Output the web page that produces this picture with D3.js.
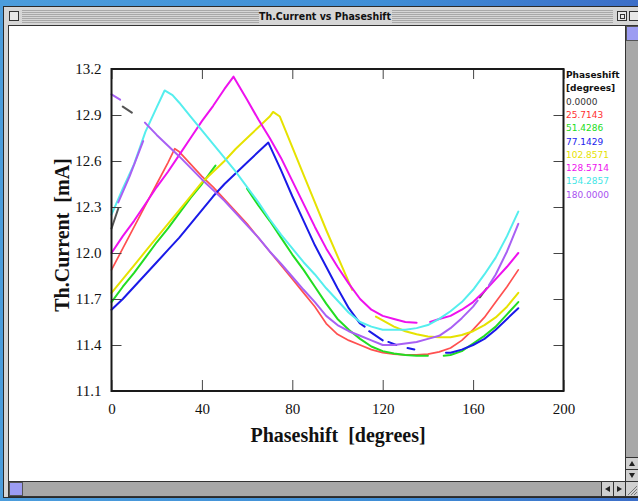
<!DOCTYPE html>
<html><head><meta charset="utf-8">
<script src="https://cdn.jsdelivr.net/npm/d3@7"></script>
<style>
body{margin:0;background:#3e8fd6;overflow:hidden}
svg{display:block}
</style>
</head><body>
<svg id="c" width="638" height="501"></svg>
<script>
// ---------------- data ----------------
const chartTitle = "Th.Current vs Phaseshift";
const xTitle = "Phaseshift  [degrees]";
const yTitle = "Th.Current  [mA]";
const legendTitle = ["Phaseshift", "[degrees]"];
const seriesNames = ["0.0000","25.7143","51.4286","77.1429","102.8571","128.5714","154.2857","180.0000"];
const seriesColors = ["#555555","#ff5050","#22dd22","#1a1ae8","#e6e200","#ee11ee","#55eeee","#a860f4"];
const legendColors = ["#333333","#ff3030","#22dd22","#2222ee","#e6e200","#ee11ee","#44e6e6","#a850f0"];
const xTicks = [0,40,80,120,160,200];
const yTicks = [11.1,11.4,11.7,12.0,12.3,12.6,12.9,13.2];

const blackX = [0,3,3.5,5,9,9.5,163,166];
const blackY = [12.16,12.29,null,12.955,12.915,null,11.71,11.77];

const redX = [0,5,10,15,20,25,28,30,35,40,45,50,55,60,65,70,75,80,85,90,95,100,105,110,115,120,125,130,135,140,145,150,155,160,165,170,175,180];
const redY = [11.89,12.03,12.17,12.31,12.45,12.59,12.68,12.66,12.58,12.50,12.43,12.35,12.27,12.19,12.10,12.01,11.92,11.83,11.74,11.65,11.54,11.47,11.43,11.40,11.37,11.35,11.34,11.335,11.335,11.34,11.355,11.38,11.43,11.50,11.58,11.68,11.78,11.89];

const greenX = [0,5,10,15,20,25,30,35,40,45,46,50,60,65,70,75,80,85,90,95,100,105,110,115,120,125,130,135,140,143,147,150,155,160,165,170,175,180];
const greenY = [11.68,11.78,11.87,11.97,12.07,12.16,12.26,12.36,12.45,12.55,12.57,null,12.42,12.31,12.21,12.10,11.99,11.89,11.78,11.67,11.57,11.50,11.44,11.39,11.36,11.345,11.335,11.33,11.33,null,11.33,11.335,11.36,11.41,11.46,11.52,11.60,11.68];

const blueX = [0,5,10,15,20,25,30,35,40,45,50,55,60,65,69.4,75,80,85,90,95,100,105,110,112,113,114,120,121,122.5,126,127,131,134,136,148,150,155,160,165,170,175,180];
const blueY = [11.63,11.70,11.78,11.86,11.94,12.02,12.10,12.19,12.28,12.37,12.45,12.52,12.59,12.66,12.72,12.54,12.37,12.21,12.05,11.91,11.77,11.64,11.54,11.52,null,11.49,11.43,null,11.42,11.40,null,11.38,11.37,null,11.35,11.35,11.37,11.40,11.44,11.50,11.57,11.64];

const yellowX = [0,5,10,15,20,25,30,35,40,45,50,55,60,65,70,71.5,74.5,80,85,90,95,100,105,106.5,110,117,120,125,130,135,140,145,150,155,160,165,170,175,180];
const yellowY = [11.74,11.83,11.92,12.01,12.10,12.19,12.28,12.37,12.46,12.53,12.60,12.68,12.75,12.82,12.89,12.92,12.89,12.69,12.51,12.33,12.15,11.98,11.81,11.76,null,11.585,11.56,11.52,11.49,11.47,11.455,11.45,11.45,11.465,11.49,11.53,11.58,11.65,11.74];

const magentaX = [0,5,10,15,20,25,30,35,40,45,50,54,60,65,70,75,80,85,90,95,100,105,110,115,120,125,130,135,138,141,145,150,155,160,165,170,175,180];
const magentaY = [12.00,12.11,12.21,12.32,12.43,12.53,12.64,12.75,12.86,12.96,13.07,13.15,13.00,12.87,12.75,12.62,12.47,12.32,12.17,12.03,11.91,11.80,11.70,11.63,11.59,11.57,11.55,11.545,null,11.55,11.57,11.59,11.63,11.68,11.75,11.83,11.91,12.00];

const cyanX = [0,5,10,15,20,23.5,27,30,35,40,45,50,55,60,65,70,75,80,85,90,95,100,105,110,115,120,125,130,135,140,145,150,155,160,165,170,175,180];
const cyanY = [12.25,12.42,12.58,12.79,12.95,13.06,13.03,12.98,12.89,12.80,12.71,12.62,12.53,12.43,12.33,12.22,12.12,12.03,11.94,11.86,11.77,11.69,11.61,11.55,11.52,11.50,11.50,11.50,11.51,11.53,11.57,11.62,11.68,11.76,11.86,11.97,12.11,12.27];

const purpleX = [0,3.8,4,3,8,14,14.5,14.8,20,25,30,35,40,45,50,55,60,65,70,75,80,85,90,95,100,105,110,115,120,125,130,135,140,145,150,155,160,162,164.5,167,170,175,180];
const purpleY = [13.035,13.0,null,12.33,12.50,12.73,null,12.85,12.77,12.70,12.63,12.555,12.48,12.41,12.34,12.26,12.18,12.10,12.01,11.93,11.845,11.76,11.68,11.59,11.53,11.49,11.46,11.43,11.40,11.40,11.41,11.42,11.44,11.46,11.51,11.575,11.65,11.69,null,11.79,11.86,12.01,12.19];

const seriesX = [blackX,redX,greenX,blueX,yellowX,magentaX,cyanX,purpleX];
const seriesY = [blackY,redY,greenY,blueY,yellowY,magentaY,cyanY,purpleY];

// ---------------- window chrome ----------------
const svg = d3.select("#c");
const defs = svg.append("defs");
const gr = defs.append("linearGradient").attr("id","desk").attr("x1",0).attr("x2",1).attr("y1",0).attr("y2",0);
gr.append("stop").attr("offset","0%").attr("stop-color","#4c9ddc");
gr.append("stop").attr("offset","60%").attr("stop-color","#3f8ed6");
gr.append("stop").attr("offset","100%").attr("stop-color","#3c6ec8");
svg.append("rect").attr("width",638).attr("height",501).attr("fill","url(#desk)");

svg.append("rect").attr("x",3.5).attr("y",6.5).attr("width",640).attr("height",491)
  .attr("fill","#d6d6d6").attr("stroke","#2a2a2a");
const stripes = svg.append("g").attr("stroke","#a8a8a8").attr("stroke-width",1);
for (let yy = 10.5; yy <= 23.5; yy += 2) {
  stripes.append("line").attr("x1",22).attr("x2",259).attr("y1",yy).attr("y2",yy);
  stripes.append("line").attr("x1",392).attr("x2",613).attr("y1",yy).attr("y2",yy);
}
svg.append("rect").attr("x",9.5).attr("y",11.5).attr("width",9).attr("height",9)
  .attr("fill","#e8e8e8").attr("stroke","#333");
svg.append("rect").attr("x",617.5).attr("y",11.5).attr("width",9).attr("height",9)
  .attr("fill","#e8e8e8").attr("stroke","#333");
svg.append("rect").attr("x",620.5).attr("y",14.5).attr("width",4).attr("height",4)
  .attr("fill","none").attr("stroke","#333");
svg.append("rect").attr("x",629.5).attr("y",11.5).attr("width",9).attr("height",9)
  .attr("fill","#e8e8e8").attr("stroke","#333");
svg.append("text").attr("x",325).attr("y",20).attr("text-anchor","middle")
  .attr("font-family","'DejaVu Sans Condensed','DejaVu Sans',sans-serif").attr("font-stretch","condensed")
  .attr("font-weight","bold").attr("font-size",10.5).attr("fill","#111").text(chartTitle);

svg.append("rect").attr("x",8.5).attr("y",25.5).attr("width",617).attr("height",456)
  .attr("fill","#ffffff").attr("stroke","#333");
svg.append("rect").attr("x",625.5).attr("y",25.5).attr("width",14).attr("height",456)
  .attr("fill","#a8a8a8").attr("stroke","#333");
svg.append("rect").attr("x",626.5).attr("y",26.5).attr("width",12).attr("height",14)
  .attr("fill","#9c9cf2").attr("stroke","#555");
svg.append("rect").attr("x",625.5).attr("y",457.5).attr("width",14).attr("height",12)
  .attr("fill","#cfcfcf").attr("stroke","#333");
svg.append("rect").attr("x",625.5).attr("y",469.5).attr("width",14).attr("height",12)
  .attr("fill","#cfcfcf").attr("stroke","#333");
svg.append("path").attr("d","M629,466 L635,466 L632,461 Z").attr("fill","#222");
svg.append("path").attr("d","M629,473 L635,473 L632,478 Z").attr("fill","#222");
svg.append("rect").attr("x",8.5).attr("y",481.5).attr("width",617).attr("height",15)
  .attr("fill","#a8a8a8").attr("stroke","#333");
svg.append("rect").attr("x",9.5).attr("y",482.5).attr("width",13).attr("height",13)
  .attr("fill","#9c9cf2").attr("stroke","#555");
svg.append("rect").attr("x",601.5).attr("y",481.5).attr("width",12).attr("height",15)
  .attr("fill","#cfcfcf").attr("stroke","#333");
svg.append("rect").attr("x",613.5).attr("y",481.5).attr("width",12).attr("height",15)
  .attr("fill","#cfcfcf").attr("stroke","#333");
svg.append("path").attr("d","M610,486 L610,492 L605,489 Z").attr("fill","#222");
svg.append("path").attr("d","M617,486 L617,492 L622,489 Z").attr("fill","#222");
svg.append("rect").attr("x",625.5).attr("y",481.5).attr("width",14).attr("height",15)
  .attr("fill","#d0d0d0").attr("stroke","#333");
svg.append("path").attr("d","M628,495 L637,486 M631,495 L637,489 M634,495 L637,492")
  .attr("stroke","#777").attr("fill","none");

// ---------------- chart ----------------
const x = d3.scaleLinear().domain([0,200]).range([111.5,563.5]);
const y = d3.scaleLinear().domain([11.1,13.2]).range([391,69]);

const g = svg.append("g");

const line = d3.line()
  .defined(d => d[1] !== null)
  .x(d => x(d[0])).y(d => y(d[1]));

const series = seriesNames.map((name,i) => ({
  name, color: seriesColors[i],
  pts: seriesX[i].map((xv,j) => [xv, seriesY[i][j]])
}));

g.append("g").selectAll("path").data(series).join("path")
  .attr("d", d => line(d.pts))
  .attr("fill","none")
  .attr("stroke", d => d.color)
  .attr("stroke-width", (d,i) => i === 1 ? 1.7 : 2)
  .attr("stroke-linejoin","round")
  .attr("stroke-linecap","round");

const tickStyle = sel => {
  sel.select(".domain").remove();
  sel.selectAll(".tick line").attr("stroke","#444").attr("stroke-width",1);
  sel.selectAll(".tick text").attr("font-family","'Liberation Serif','Times New Roman',serif")
    .attr("font-size",15).attr("fill","#111");
};
g.append("g").attr("transform","translate(0,391)")
  .call(d3.axisBottom(x).tickValues(xTicks).tickSize(-11).tickPadding(12).tickFormat(d3.format("d")))
  .call(tickStyle);
g.append("g").attr("transform","translate(111.5,0)")
  .call(d3.axisLeft(y).tickValues(yTicks).tickSize(-10).tickPadding(10).tickFormat(d3.format(".1f")))
  .call(tickStyle);
g.append("g").attr("transform","translate(0,69)")
  .call(d3.axisTop(x).tickValues(xTicks).tickSize(-10).tickFormat(""))
  .call(tickStyle);
g.append("g").attr("transform","translate(563.5,0)")
  .call(d3.axisRight(y).tickValues(yTicks).tickSize(-10).tickFormat(""))
  .call(tickStyle);

g.append("rect").attr("x",x(0)).attr("y",y(13.2))
  .attr("width",x(200)-x(0)).attr("height",y(11.1)-y(13.2))
  .attr("fill","none").attr("stroke","#1a1a1a").attr("stroke-width",2);

g.append("text").attr("x",338).attr("y",442).attr("text-anchor","middle")
  .attr("font-family","'Liberation Serif','Times New Roman',serif").attr("font-weight","bold")
  .attr("font-size",20).attr("fill","#111").style("white-space","pre").text(xTitle);
g.append("text").attr("transform","translate(69,235) rotate(-90)").attr("text-anchor","middle")
  .attr("font-family","'Liberation Serif','Times New Roman',serif").attr("font-weight","bold")
  .attr("font-size",20).attr("fill","#111").style("white-space","pre").text(yTitle);

const lg = g.append("g").attr("font-family","'DejaVu Sans',sans-serif").attr("font-size",9);
lg.selectAll("text.h").data(legendTitle).join("text").attr("class","h")
  .attr("x",566).attr("y",(d,i) => 78 + i*13.3)
  .attr("font-weight","bold").attr("fill","#111").text(d => d);
lg.selectAll("text.e").data(seriesNames).join("text").attr("class","e")
  .attr("x",566).attr("y",(d,i) => 104.6 + i*13.3)
  .attr("fill",(d,i) => legendColors[i]).text(d => d);
</script>
</body></html>
